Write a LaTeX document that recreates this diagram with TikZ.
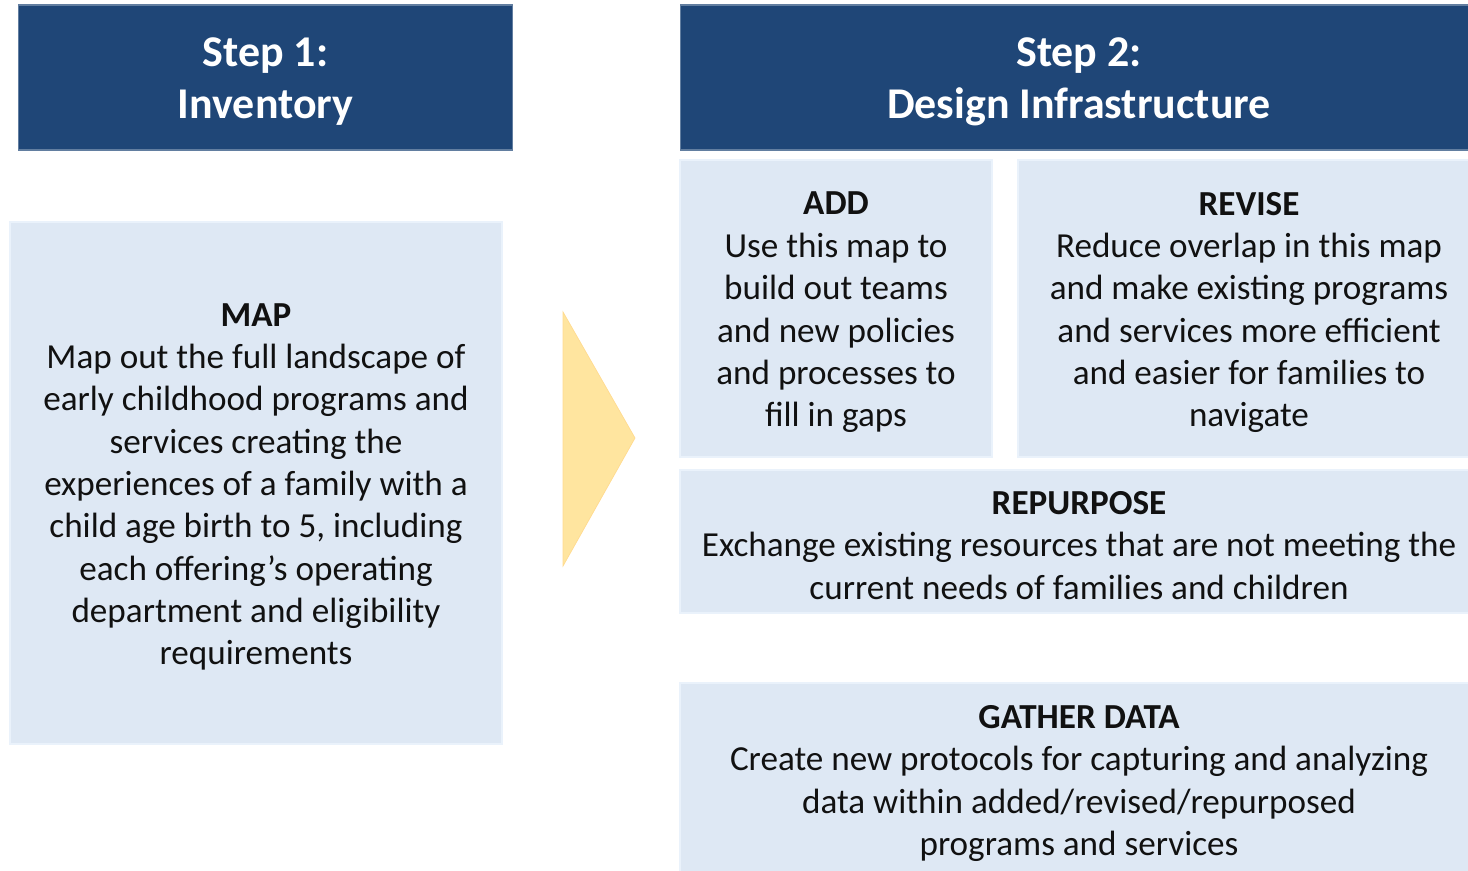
\documentclass[tikz,border=0pt]{standalone}
\usepackage{fontspec}
\setmainfont{Carlito}
\usepackage{xcolor}
\usepackage{tikz}
\usetikzlibrary{positioning}
\definecolor{navy}{HTML}{1F4677}
\definecolor{pale}{HTML}{DEE8F4}
\definecolor{paleedge}{HTML}{EAF2FB}
\definecolor{ink}{HTML}{111111}
\definecolor{gold}{HTML}{FFE59F}
\newcommand{\lift}[1]{\raisebox{0pt}[\dimexpr\height+4.5pt\relax]{#1}}
\tikzset{
  hdr/.style={rectangle, fill=navy, draw=navy!70, line width=0.6pt, text=white, align=center,
    font=\fontsize{25}{29.6}\selectfont\bfseries, inner sep=0pt},
  cell/.style={rectangle, fill=pale, draw=paleedge, line width=1.2pt, text=ink, align=center,
    font=\fontsize{20}{24.1}\selectfont, inner sep=0pt},
  chev/.style={fill=gold, draw=gold!90!orange, line width=0.4pt}
}

\begin{document}
\begin{tikzpicture}[x=0.02cm, y=-0.02cm]
  \useasboundingbox (0,0) rectangle (1468,870);
  \fill[white] (0,0) rectangle (1468,870);
  % headers
  \node[hdr, minimum width=9.9cm, minimum height=2.9cm] (step1) at (265.5,77.5) {\lift{Step 1:}\\Inventory};
  \node[hdr, minimum width=15.96cm, minimum height=2.9cm] (step2) at (1079,77.5) {\lift{Step 2:}\\Design Infrastructure};
  % step 1 body
  \node[cell, minimum width=9.84cm, minimum height=10.44cm] (map) at (256,483)
    {\lift{\textbf{MAP}}\\Map out the full landscape of\\early childhood programs and\\services creating the\\experiences of a family with a\\child age birth to 5, including\\each offering’s operating\\department and eligibility\\requirements};
  % arrow between the steps
  \coordinate (c1) at (563,312);
  \coordinate (c2) at (635,438);
  \coordinate (c3) at (563,566);
  \fill[chev] (c1) -- (c2) -- (c3) -- cycle;
  % step 2 body
  \node[cell, minimum width=6.24cm, minimum height=5.94cm] (add) at (836,308.5)
    {\lift{\textbf{ADD}}\\Use this map to\\build out teams\\and new policies\\and processes to\\fill in gaps};
  \node[cell, minimum width=9.24cm, minimum height=5.94cm] (revise) at (1249,308.5)
    {\lift{\textbf{REVISE}}\\Reduce overlap in this map\\and make existing programs\\and services more efficient\\and easier for families to\\navigate};
  \node[cell, minimum width=15.96cm, minimum height=2.86cm] (repurpose) at (1079,541.5)
    {\lift{\textbf{REPURPOSE}}\\Exchange existing resources that are not meeting the\\current needs of families and children};
  \node[cell, minimum width=15.96cm, minimum height=3.86cm] (gather) at (1079,779.5)
    {\lift{\textbf{GATHER DATA}}\\Create new protocols for capturing and analyzing\\data within added/revised/repurposed\\programs and services};
\end{tikzpicture}
\end{document}
